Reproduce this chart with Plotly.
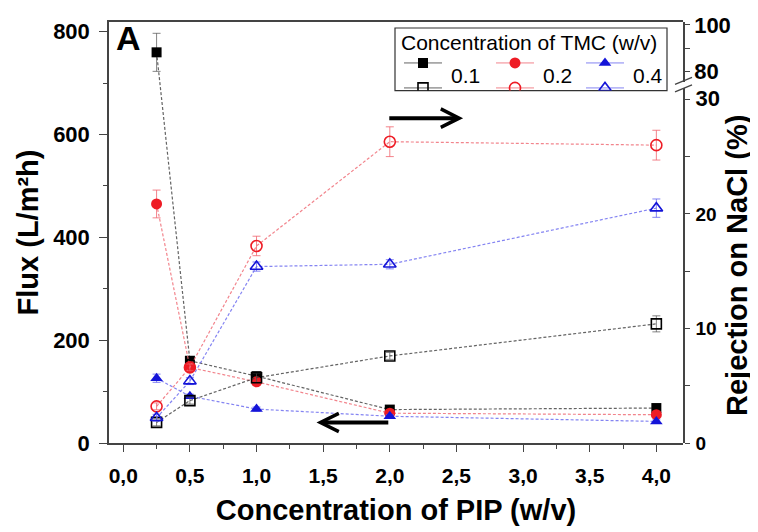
import plotly.graph_objects as go

# ---------------- data ----------------
pip_conc = [0.25, 0.5, 1.0, 2.0, 4.0]
tmc_labels = ["0.1", "0.2", "0.4"]

flux_01 = [760, 160, 130, 65, 68]
flux_01_err = [37, 6, 8, 4, 4]
flux_02 = [465, 147, 119, 58, 55]
flux_02_err = [27, 6, 6, 4, 3]
flux_04 = [126, 91, 66, 52, 42]
flux_04_err = [8, 4, 4, 3, 3]

rej_01 = [1.8, 3.7, 5.7, 7.6, 10.4]
rej_01_err = [0.3, 0.3, 0.4, 0.3, 0.7]
rej_02 = [3.2, 6.6, 17.2, 26.3, 26.0]
rej_02_err = [0.3, 0.3, 0.85, 1.3, 1.3]
rej_04 = [2.2, 5.4, 15.4, 15.6, 20.5]
rej_04_err = [0.3, 0.3, 0.4, 0.4, 0.8]

x_ticks = [0, 0.5, 1, 1.5, 2, 2.5, 3, 3.5, 4]
flux_ticks = [0, 200, 400, 600, 800]
rej_ticks_low = [0, 10, 20, 30]
rej_ticks_high = [80, 100]

# ---------------- styles ----------------
FONT = "Liberation Sans, Arial, sans-serif"
AX = "#444444"
marker_col = ["#000000", "#ee1c25", "#1414d8"]
line_col = ["rgba(60,60,60,0.8)", "rgba(240,110,120,0.85)", "rgba(110,110,240,0.85)"]
err_col = ["rgba(80,80,80,0.7)", "rgba(240,100,110,0.8)", "rgba(100,100,240,0.8)"]
filled_sym = ["square", "circle", "triangle-up"]
open_sym = ["square-open", "circle-open", "triangle-up-open"]
msize = [10, 11, 11]

flux = [flux_01, flux_02, flux_04]
flux_err = [flux_01_err, flux_02_err, flux_04_err]
rej = [rej_01, rej_02, rej_04]
rej_err = [rej_01_err, rej_02_err, rej_04_err]

# The page body has an 8px margin, so the figure is drawn 8px smaller and
# all page-pixel positions are shifted by that offset.
OFF = 8
W, H = 758 - OFF, 532 - OFF
L, R, T, B = 109, 683, 22, 443.5  # plot area in page pixels


def px2paper(px, py):
    return (px - L) / (R - L), (B - py) / (B - T)


fig = go.Figure()

for i, lab in enumerate(tmc_labels):
    fig.add_trace(go.Scatter(
        x=pip_conc, y=flux[i], name=lab, legendgroup=lab, showlegend=False,
        mode="lines+markers", xaxis="x", yaxis="y",
        line=dict(color=line_col[i], width=1.2, dash="3px,2px"),
        marker=dict(symbol=filled_sym[i], size=msize[i], color=marker_col[i],
                    line=dict(width=0)),
        error_y=dict(type="data", array=flux_err[i], color=err_col[i],
                     thickness=1, width=4),
    ))
    fig.add_trace(go.Scatter(
        x=pip_conc, y=rej[i], name=lab, legendgroup=lab, showlegend=False,
        mode="lines+markers", xaxis="x", yaxis="y2",
        line=dict(color=line_col[i], width=1.2, dash="3px,2px"),
        marker=dict(symbol=open_sym[i], size=msize[i], color=marker_col[i],
                    line=dict(width=1.6, color=marker_col[i])),
        error_y=dict(type="data", array=rej_err[i], color=err_col[i],
                     thickness=1, width=4),
    ))

# empty trace so that the upper broken segment of the right axis exists
fig.add_trace(go.Scatter(x=[], y=[], xaxis="x", yaxis="y3", showlegend=False,
                         hoverinfo="skip"))

# ---------------- legend (drawn in a helper axis over the legend box) ----------------
LEG_L, LEG_R, LEG_T, LEG_B = 395, 667, 28, 90.7
leg_sym_x = [423, 515, 605]
leg_row_y = [63, 88]
for i, lab in enumerate(tmc_labels):
    for r, sym in enumerate([filled_sym[i], open_sym[i]]):
        fig.add_trace(go.Scatter(
            x=[leg_sym_x[i] - 19, leg_sym_x[i] + 19], y=[leg_row_y[r]] * 2,
            mode="lines", xaxis="x2", yaxis="y4", showlegend=False,
            hoverinfo="skip", line=dict(color=line_col[i], width=1),
        ))
        fig.add_trace(go.Scatter(
            x=[leg_sym_x[i]], y=[leg_row_y[r]], name=lab,
            mode="markers", xaxis="x2", yaxis="y4", showlegend=False,
            hoverinfo="skip",
            marker=dict(symbol=sym, size=msize[i], color=marker_col[i],
                        line=dict(width=1.6 if r else 0, color=marker_col[i])),
        ))
    fig.add_annotation(text=lab, xref="x2", yref="y4", x=leg_sym_x[i] + 26,
                       y=76, xanchor="left", yanchor="middle", showarrow=False,
                       font=dict(family=FONT, size=21, color="black"))
fig.add_annotation(text="Concentration of TMC (w/v)", xref="x2", yref="y4",
                   x=(LEG_L + LEG_R) / 2 - 2, y=43, xanchor="center", yanchor="middle",
                   showarrow=False, font=dict(family=FONT, size=21, color="black"))
bx0, by0 = px2paper(LEG_L, LEG_B)
bx1, by1 = px2paper(LEG_R, LEG_T)
fig.add_shape(type="rect", xref="paper", yref="paper", x0=bx0, y0=by0, x1=bx1,
              y1=by1, line=dict(color="#333333", width=1.2), fillcolor="white",
              layer="below")

tick_font = dict(family=FONT, size=21, color="black", weight="bold")
title_font = dict(family=FONT, size=29, color="black", weight="bold")

fig.update_layout(
    width=W, height=H,
    margin=dict(l=L - OFF, r=W - (R - OFF), t=T - OFF, b=H - (B - OFF)),
    paper_bgcolor="white", plot_bgcolor="rgba(0,0,0,0)",
    separators=",.",
    showlegend=False,
    xaxis=dict(
        range=[-0.107, 4.2], tickvals=x_ticks, tickformat=".1f",
        ticks="outside", ticklen=7, tickwidth=1.3, tickcolor=AX,
        ticklabelstandoff=6,
        minor=dict(dtick=0.25, tick0=0, ticks="outside", ticklen=4,
                   tickwidth=1.2, tickcolor=AX),
        showline=True, linecolor=AX, linewidth=1.5, mirror=True,
        showgrid=False, zeroline=False, automargin=False,
        tickfont=tick_font,
        title=dict(text="Concentration of PIP (w/v)", font=title_font, standoff=14),
    ),
    yaxis=dict(
        range=[0, 819], tickvals=flux_ticks,
        ticks="outside", ticklen=8, tickwidth=1.3, tickcolor=AX,
        ticklabelstandoff=5,
        minor=dict(dtick=100, tick0=0, ticks="outside", ticklen=4,
                   tickwidth=1.2, tickcolor=AX),
        showline=True, linecolor=AX, linewidth=1.5,
        showgrid=False, zeroline=False, automargin=False,
        tickfont=dict(family=FONT, size=22, color="black", weight="bold"),
        title=dict(text="Flux (L/m²h)", font=title_font, standoff=6),
    ),
    yaxis2=dict(
        anchor="x", side="right", domain=[0, 0.8441],
        range=[0, 31.02], tickvals=rej_ticks_low,
        ticktext=["0", "10", "20", '<span style="font-size:22px">30</span>'],
        ticks="outside", ticklen=5, tickwidth=1.3, tickcolor=AX,
        ticklabelstandoff=2,
        minor=dict(dtick=5, tick0=0, ticks="outside", ticklen=5,
                   tickwidth=1.2, tickcolor=AX),
        showline=True, linecolor=AX, linewidth=1.5,
        showgrid=False, zeroline=False, automargin=False,
        tickfont=dict(family=FONT, size=19, color="black", weight="bold"),
        title=dict(text="Rejection on NaCl (%)", font=title_font, standoff=8),
    ),
    yaxis3=dict(
        anchor="x", side="right", domain=[0.8581, 1],
        range=[75.7, 101.2], tickvals=rej_ticks_high,
        ticks="outside", ticklen=5, tickwidth=1.3, tickcolor=AX,
        minor=dict(dtick=10, tick0=0, ticks="outside", ticklen=5,
                   tickwidth=1.2, tickcolor=AX),
        showline=True, linecolor=AX, linewidth=1.5,
        showgrid=False, zeroline=False, automargin=False,
        tickfont=dict(family=FONT, size=22, color="black", weight="bold"),
    ),
    xaxis2=dict(domain=[bx0, bx1], range=[LEG_L, LEG_R], anchor="y4",
                visible=False, fixedrange=True),
    yaxis4=dict(domain=[by0, by1], range=[LEG_B, LEG_T], anchor="x2",
                visible=False, fixedrange=True),
)

# panel label
fig.add_annotation(text="<b>A</b>", xref="paper", yref="paper", x=0.008, y=0.963,
                   xanchor="left", yanchor="middle", showarrow=False,
                   font=dict(family=FONT, size=34, color="black"))

# arrows indicating which axis each set of curves belongs to
fig.add_annotation(x=2.55, y=632, ax=1.985, ay=632, xref="x", yref="y",
                   axref="x", ayref="y", text="", showarrow=True,
                   arrowhead=5, arrowsize=0.9, arrowwidth=4, arrowcolor="black")
fig.add_annotation(x=1.45, y=40, ax=2.0, ay=40, xref="x", yref="y",
                   axref="x", ayref="y", text="", showarrow=True,
                   arrowhead=5, arrowsize=0.9, arrowwidth=4, arrowcolor="black")

# axis break marks on the right axis
for yc in (81.0, 88.5):
    x0, y0 = px2paper(675, yc + 3.5)
    x1, y1 = px2paper(692, yc - 3.5)
    fig.add_shape(type="line", xref="paper", yref="paper", x0=x0, y0=y0,
                  x1=x1, y1=y1, line=dict(color=AX, width=1.3))

fig.write_html("out.html")
